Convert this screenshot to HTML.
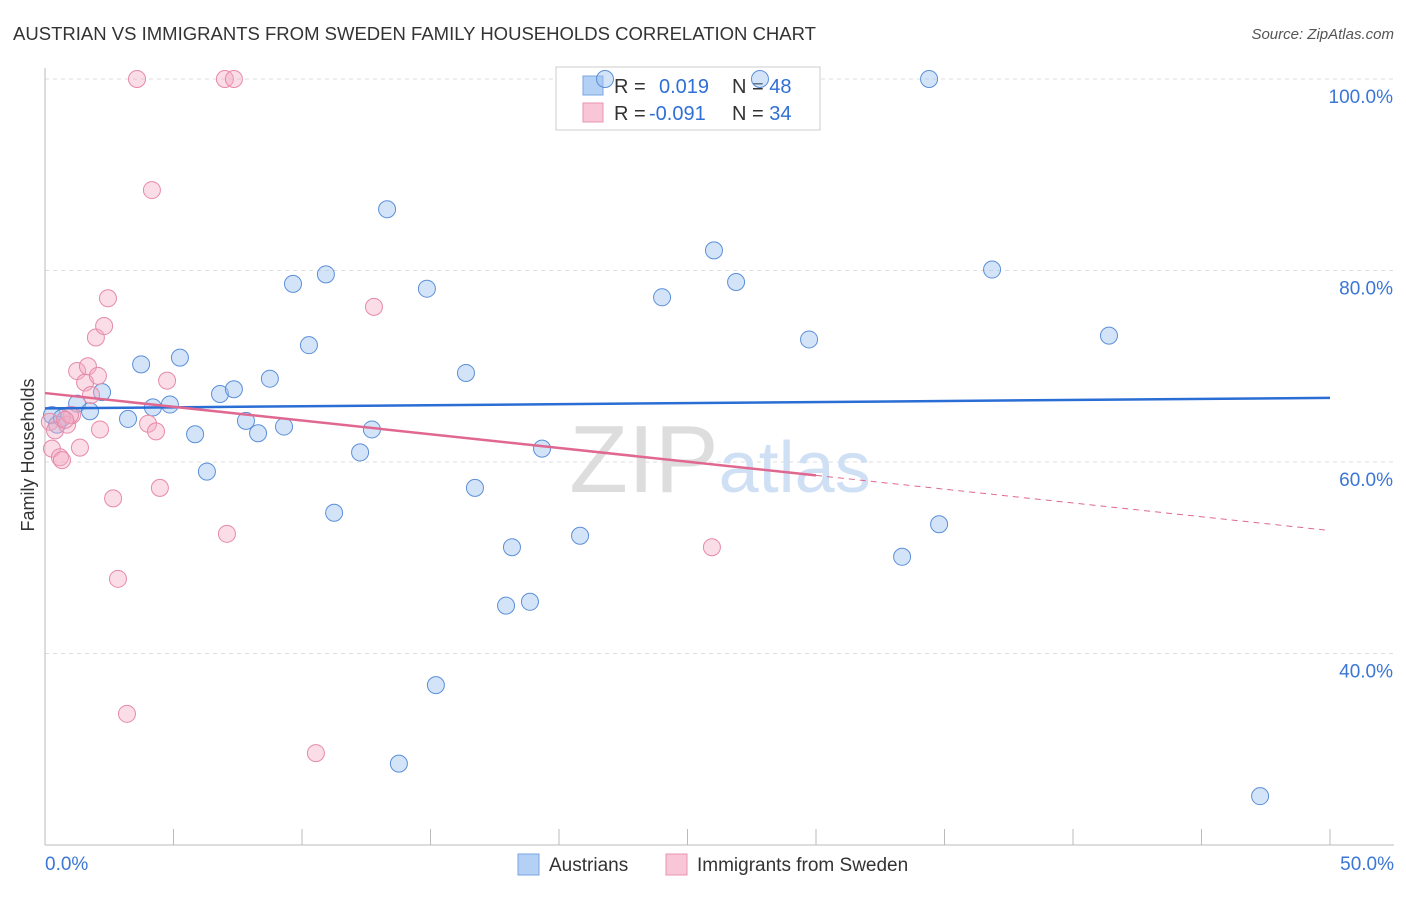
<!DOCTYPE html>
<html><head><meta charset="utf-8"><style>
body{margin:0;background:#fff;font-family:"Liberation Sans",sans-serif}
svg text{font-family:"Liberation Sans",sans-serif}
</style></head><body>
<svg width="1406" height="892">
<text x="13" y="40" font-size="18" fill="#333" textLength="803" lengthAdjust="spacingAndGlyphs">AUSTRIAN VS IMMIGRANTS FROM SWEDEN FAMILY HOUSEHOLDS CORRELATION CHART</text>
<text x="1394" y="39" font-size="15" fill="#555" font-style="italic" text-anchor="end">Source: ZipAtlas.com</text>
<g id="grid"></g>
<text x="720" y="492" font-size="96" fill="#ddd" text-anchor="middle" font-family="Liberation Serif">ZIP<tspan fill="#cfe0f5" font-family="Liberation Sans" font-size="72">atlas</tspan></text>
<g>
<rect x="556" y="67" width="264" height="63" fill="#fff" stroke="#ccc"/>
<rect x="583" y="76" width="20" height="19" fill="#b5d0f5" stroke="#7aa6e3"/>
<text x="614" y="93" font-size="20" fill="#333">R = <tspan fill="#2f6fd6" x="659">0.019</tspan><tspan x="732" fill="#333">N = </tspan><tspan fill="#2f6fd6">48</tspan></text>
<rect x="583" y="103" width="20" height="19" fill="#f8c6d6" stroke="#e894b1"/>
<text x="614" y="120" font-size="20" fill="#333">R = <tspan fill="#2f6fd6" x="649">-0.091</tspan><tspan x="732" fill="#333">N = </tspan><tspan fill="#2f6fd6">34</tspan></text>
</g>
<g id="pts"></g>
<g id="trend"></g>
<text x="34" y="455" font-size="18" fill="#333" text-anchor="middle" transform="rotate(-90 34 455)">Family Households</text>
<g>
<rect x="518" y="854" width="21" height="21" fill="#b5d0f5" stroke="#7aa6e3"/>
<text x="549" y="871" font-size="19" fill="#333">Austrians</text>
<rect x="666" y="854" width="21" height="21" fill="#f8c6d6" stroke="#e894b1"/>
<text x="697" y="871" font-size="19" fill="#333">Immigrants from Sweden</text>
</g>
</svg>
<script>
const blueX=[0.27,0.47,0.66,1.25,1.75,2.22,3.23,3.74,4.20,4.86,5.25,5.84,6.30,6.81,7.35,7.82,8.29,8.75,9.30,9.65,10.27,10.93,11.25,12.26,12.72,13.31,13.77,14.86,15.21,16.38,16.73,17.94,18.17,18.87,19.34,20.82,21.79,24.01,26.03,26.89,27.82,29.73,33.35,34.40,34.79,36.85,41.40,47.28];
const blueY=[64.9,63.9,64.6,66.1,65.3,67.3,64.5,70.2,65.7,66.0,70.9,62.9,59.0,67.1,67.6,64.3,63.0,68.7,63.7,78.6,72.2,79.6,54.7,61.0,63.4,86.4,28.5,78.1,36.7,69.3,57.3,45.0,51.1,45.4,61.4,52.3,100,77.2,82.1,78.8,100,72.8,50.1,100,53.5,80.1,73.2,25.1];
const pinkX=[0.19,0.27,0.39,0.58,0.66,0.86,1.05,1.25,1.56,1.67,1.79,1.98,2.06,2.14,2.30,2.45,2.65,2.84,3.19,3.58,4.01,4.16,4.32,4.47,4.75,7.00,7.08,7.35,10.54,12.80,25.95,1.36,0.97,0.78];
const pinkY=[64.2,61.4,63.3,60.5,60.2,63.9,64.9,69.5,68.3,70.0,67.0,73.0,69.0,63.4,74.2,77.1,56.2,47.8,33.7,100,64.0,88.4,63.2,57.3,68.5,100,52.5,100,29.6,76.2,51.1,61.5,64.9,64.4];
const yTicks=[40,60,80,100];
const xTicks=[0,5,10,15,20,25,30,35,40,45,50];
const blueTrend=[65.6,66.7];
const pinkTrend=[67.2,58.6,52.9];
const pinkSolidEnd=30, pinkDashEnd=49.8;
const sx=v=>45+v*25.7, sy=v=>79+(100-v)*9.575;
const NS='http://www.w3.org/2000/svg';
function mk(p,t,a){const e=document.createElementNS(NS,t);for(const k in a)e.setAttribute(k,a[k]);p.appendChild(e);return e;}
const g=document.getElementById('grid');
yTicks.forEach(v=>{const l=mk(g,'line',{x1:45,x2:1394,y1:sy(v),y2:sy(v),stroke:'#ddd','stroke-dasharray':'4 4'});


const t=mk(g,'text',{x:1393,y:sy(v)+24,'font-size':19,fill:'#3b76d6','text-anchor':'end'});t.textContent=v.toFixed(1)+'%';

});
const ax=mk(g,'line',{x1:45,x2:45,y1:68,y2:845,stroke:'#bbb'});


const bx=mk(g,'line',{x1:45,x2:1394,y1:845,y2:845,stroke:'#bbb'});


xTicks.forEach(v=>{const l=mk(g,'line',{x1:sx(v),x2:sx(v),y1:829,y2:845,stroke:'#bbb'});

});
[[0,'0.0%','start',45],[50,'50.0%','end',1394]].forEach(a=>{const t=mk(g,'text',{x:a[3],y:870,'font-size':19,fill:'#3b76d6','text-anchor':a[2]});t.textContent=a[1];

});
const P=document.getElementById('pts');
blueX.forEach((x,i)=>{const c=mk(P,'circle',{cx:sx(x),cy:sy(blueY[i]),r:8.5,fill:'rgba(160,196,240,0.45)',stroke:'#5b8fd9','stroke-width':1});

});
pinkX.forEach((x,i)=>{const c=mk(P,'circle',{cx:sx(x),cy:sy(pinkY[i]),r:8.5,fill:'rgba(245,170,195,0.4)',stroke:'#e68aa8','stroke-width':1});

});
const T=document.getElementById('trend');
const b=mk(T,'line',{x1:sx(0),y1:sy(blueTrend[0]),x2:sx(50),y2:sy(blueTrend[1]),stroke:'#2a6dd4','stroke-width':2.5});


const p=mk(T,'line',{x1:sx(0),y1:sy(pinkTrend[0]),x2:sx(pinkSolidEnd),y2:sy(pinkTrend[1]),stroke:'#e06890','stroke-width':2.5});


const d=mk(T,'line',{x1:sx(pinkSolidEnd),y1:sy(pinkTrend[1]),x2:sx(pinkDashEnd),y2:sy(pinkTrend[2]),stroke:'#e06890','stroke-width':1,'stroke-dasharray':'6 5'});


</script>
</body></html>
